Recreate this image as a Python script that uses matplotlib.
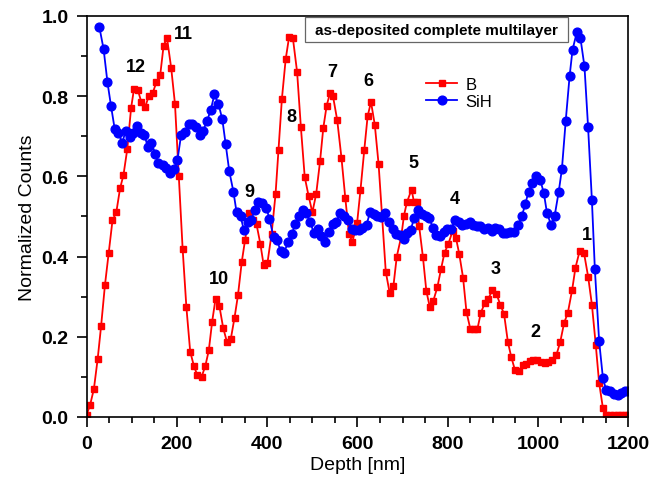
import numpy as np
import matplotlib.pyplot as plt
from matplotlib.patches import Rectangle
from matplotlib.ticker import MultipleLocator

plt.rcParams['font.family'] = ['Liberation Sans', 'DejaVu Sans']

# B depth profile
b_depth = [0, 7.5, 15.9, 24.3, 31.8, 40.3, 48.7, 57.1, 65.5, 73.9, 81.4, 89.9,
           98.3, 104.8, 113.3, 120.8, 129.2, 137.6, 146, 154.5, 162.9, 170.4,
           177.9, 187.2, 195.6, 204.1, 212.5, 220.9, 229.3, 237.8, 245.2, 254.6,
           263, 270.5, 278, 285.5, 293.9, 302.4, 310.8, 319.2, 327.6, 335.1,
           343.5, 351, 360.4, 367.9, 376.3, 384.7, 392.2, 400.6, 409.6, 418.4,
           425, 432.5, 440.9, 448.4, 456.8, 466.2, 474.6, 483.1, 491.5, 500,
           508.5, 517, 524.2, 531.7, 539.2, 545.7, 555.1, 564.5, 572.9, 581.3,
           588.8, 599.1, 606.6, 615, 622.5, 630, 638.4, 646.8, 662.7, 671.2,
           679.6, 687.1, 697, 703, 709.5, 719.8, 725.4, 731, 736.7, 745.1,
           752.6, 760.1, 767.6, 776.9, 785.4, 792.9, 801.3, 810.6, 818.1, 825.6,
           834, 841.5, 850, 857.4, 865.9, 873.4, 881.8, 890.2, 898.6, 908,
           916.4, 924.8, 933.3, 940.7, 949.2, 957.6, 966, 973.5, 981.9, 989.4,
           997.8, 1006.3, 1014.7, 1023.1, 1031.5, 1040.9, 1049.3, 1057.8, 1066.2,
           1075.6, 1083, 1092.4, 1101.8, 1111.1, 1119.5, 1128, 1135.5, 1143.9,
           1151.4, 1159.8, 1168.2, 1176.7, 1185, 1192.6, 1200]
b_counts = [0.006, 0.03, 0.07, 0.145, 0.226, 0.328, 0.41, 0.49, 0.51, 0.57, 0.603, 0.668,
            0.77, 0.818, 0.815, 0.786, 0.772, 0.80, 0.807, 0.835, 0.853, 0.926,
            0.945, 0.87, 0.78, 0.60, 0.42, 0.273, 0.163, 0.126, 0.104, 0.10,
            0.128, 0.166, 0.238, 0.295, 0.277, 0.222, 0.187, 0.194, 0.248, 0.303,
            0.386, 0.442, 0.508, 0.49, 0.48, 0.432, 0.378, 0.385, 0.456, 0.555,
            0.665, 0.793, 0.892, 0.947, 0.945, 0.86, 0.722, 0.598, 0.552, 0.51,
            0.556, 0.637, 0.72, 0.776, 0.808, 0.80, 0.74, 0.646, 0.547, 0.455,
            0.437, 0.483, 0.565, 0.665, 0.75, 0.785, 0.728, 0.63, 0.362, 0.31,
            0.326, 0.40, 0.45, 0.502, 0.535, 0.567, 0.535, 0.535, 0.475, 0.398,
            0.314, 0.275, 0.288, 0.323, 0.37, 0.41, 0.431, 0.463, 0.447, 0.406,
            0.347, 0.262, 0.22, 0.22, 0.22, 0.26, 0.283, 0.295, 0.316, 0.307,
            0.28, 0.257, 0.187, 0.15, 0.116, 0.114, 0.13, 0.132, 0.139, 0.143,
            0.143, 0.138, 0.134, 0.136, 0.143, 0.155, 0.187, 0.234, 0.26,
            0.316, 0.372, 0.414, 0.41, 0.35, 0.28, 0.18, 0.085, 0.022,
            0.006, 0.004, 0.004, 0.004, 0.004, 0.004, 0.004]

# SiH depth profile
sih_depth = [28, 37.4, 46, 54, 62, 70, 79, 86, 95.5, 103, 111, 120, 128, 135, 143,
             152, 159, 168, 176, 184, 193, 201, 209, 217, 226.5, 234, 242.5, 251,
             258, 267, 275, 283, 292, 300.5, 308, 316, 325, 332, 341, 348, 357,
             365, 372.5, 380, 389, 398, 405, 414, 421, 430, 438, 446, 454, 462,
             471, 479, 487, 495, 504, 512, 520, 529, 536, 545, 553, 561.6, 570,
             578.5, 587, 595, 603, 611, 620, 628, 635.6, 644, 652, 661, 669, 678,
             685, 694, 702, 709.5, 718, 726, 735, 742, 751, 759, 767.6, 775,
             782.5, 791, 799, 808, 815, 824, 832, 840.6, 849, 856.5, 865, 872,
             881, 889, 898, 905, 914, 922, 929.5, 938, 947, 956, 964, 972, 979,
             987.5, 996, 1005, 1013, 1020, 1029, 1037, 1046, 1053, 1061.5, 1070,
             1076.5, 1086, 1094, 1103, 1111, 1119.5, 1126, 1135.5, 1144, 1151,
             1160, 1168, 1177, 1185, 1193, 1200]
sih_counts = [0.972, 0.917, 0.834, 0.774, 0.718, 0.709, 0.683, 0.714, 0.699, 0.708,
              0.726, 0.708, 0.703, 0.674, 0.684, 0.656, 0.633, 0.628, 0.62, 0.607,
              0.617, 0.64, 0.702, 0.711, 0.73, 0.73, 0.724, 0.703, 0.714, 0.739,
              0.766, 0.804, 0.78, 0.742, 0.68, 0.612, 0.562, 0.511, 0.50, 0.467,
              0.487, 0.492, 0.517, 0.535, 0.533, 0.521, 0.494, 0.448, 0.44, 0.415,
              0.41, 0.437, 0.455, 0.48, 0.50, 0.517, 0.508, 0.485, 0.458, 0.468,
              0.45, 0.437, 0.46, 0.48, 0.487, 0.508, 0.502, 0.492, 0.468, 0.465,
              0.465, 0.47, 0.479, 0.511, 0.505, 0.50, 0.498, 0.508, 0.487, 0.468,
              0.456, 0.453, 0.443, 0.458, 0.467, 0.497, 0.515, 0.506, 0.50, 0.495,
              0.471, 0.454, 0.45, 0.462, 0.468, 0.468, 0.49, 0.486, 0.479, 0.48,
              0.485, 0.479, 0.477, 0.475, 0.468, 0.471, 0.463, 0.472, 0.468, 0.458,
              0.458, 0.462, 0.462, 0.479, 0.50, 0.531, 0.562, 0.583, 0.60, 0.591,
              0.558, 0.508, 0.479, 0.502, 0.562, 0.618, 0.739, 0.849, 0.915, 0.959,
              0.945, 0.874, 0.723, 0.54, 0.369, 0.189, 0.096, 0.068, 0.064, 0.058,
              0.056, 0.06, 0.064, 0.064]

# layer numbers and where they sit
layer_labels = ['1', '2', '3', '4', '5', '6', '7', '8', '9', '10', '11', '12']
label_x = [1108, 995, 906, 816, 724, 625, 543, 453, 361, 293, 215, 110]
label_y = [0.454, 0.213, 0.369, 0.544, 0.635, 0.838, 0.861, 0.748, 0.562, 0.346, 0.957, 0.874]

fig = plt.figure(figsize=(6.62, 4.81), dpi=100)
ax = fig.add_axes([0.131, 0.131, 0.818, 0.834])

ax.plot(b_depth, b_counts, '-s', color='#ff0000', lw=1.3, ms=5, label='B')
ax.plot(sih_depth, sih_counts, '-o', color='#0000ff', lw=1.3, ms=6.3, label='SiH')

for t, x, y in zip(layer_labels, label_x, label_y):
    ax.text(x, y, t, fontsize=13, fontweight='bold', ha='center', va='center')

# title box in the top right
ax.add_patch(Rectangle((484, 0.936), 583, 0.062, fc='white', ec='#666666', lw=0.9, zorder=4))
ax.text(775, 0.964, 'as-deposited complete multilayer', fontsize=11, fontweight='bold',
        ha='center', va='center', zorder=5)

ax.legend(loc='center left', bbox_to_anchor=(0.626, 0.808), frameon=False, fontsize=12,
          borderpad=0, borderaxespad=0, handlelength=1.9, handletextpad=0.5,
          labelspacing=0.15)

ax.set_xlim(0, 1200)
ax.set_ylim(0, 1.0)
ax.xaxis.set_major_locator(MultipleLocator(200))
ax.xaxis.set_minor_locator(MultipleLocator(50))
ax.yaxis.set_major_locator(MultipleLocator(0.2))
ax.yaxis.set_minor_locator(MultipleLocator(0.1))
ax.yaxis.set_major_formatter(plt.FuncFormatter(lambda v, p: f'{v:.1f}'))
ax.tick_params(which='both', direction='out', top=False, right=False)
ax.tick_params(which='major', length=7, width=1.2, pad=6)
ax.tick_params(which='minor', length=4, width=1.2)
for lab in ax.get_xticklabels() + ax.get_yticklabels():
    lab.set_fontweight('bold')
    lab.set_fontsize(14)
for s in ax.spines.values():
    s.set_linewidth(1.2)
ax.set_xlabel('Depth [nm]', fontsize=14, labelpad=3)
ax.set_ylabel('Normalized Counts', fontsize=14, labelpad=4)

fig.savefig('out.png', dpi=100)
